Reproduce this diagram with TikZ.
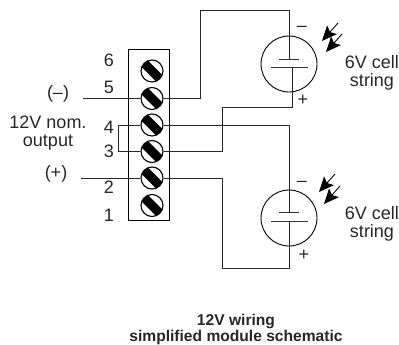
\documentclass[tikz,border=0pt]{standalone}
\usepackage{fontspec}
\setmainfont{Liberation Sans}
\usetikzlibrary{arrows.meta}
\tikzset{
  wire/.style={line width=0.9pt,black!85},
  plate/.style={line width=1pt,black!80},
  screw/.style={circle,draw=black,line width=1.1pt,fill=white,minimum size=22pt,inner sep=0pt,
    path picture={\draw[black,line width=9pt] (path picture bounding box.north west) -- (path picture bounding box.south east);}},
  cell/.style={circle,draw=black,line width=0.9pt,minimum size=56pt,inner sep=0pt},
  photon/.style={line width=0.9pt,-{Stealth[length=15pt,width=13pt,inset=3pt]}},
  lab/.style={font=\fontsize{18}{20}\selectfont,text=black!85,inner sep=0pt},
  titlelab/.style={font=\fontsize{15.6}{17}\selectfont\bfseries,text=black!85,inner sep=0pt}
}
\begin{document}
\begin{tikzpicture}[x=1pt,y=-1pt]
  \useasboundingbox (0,0) rectangle (399,345);
  % terminal strip
  \draw[line width=1pt] (128.5,50) rectangle (169.5,220);
  \node[screw] (s6) at (152,71) {};
  \node[screw] (s5) at (152,98.5) {};
  \node[screw] (s4) at (152,125) {};
  \node[screw] (s3) at (152,151.5) {};
  \node[screw] (s2) at (152,178) {};
  \node[screw] (s1) at (152,205.5) {};
  % cells
  \node[cell] (cellA) at (289,64) {};
  \node[cell] (cellB) at (289,218) {};
  \coordinate (a1) at (279,60);
  \coordinate (a2) at (299,60);
  \coordinate (a3) at (271,68);
  \coordinate (a4) at (308,68);
  \coordinate (b1) at (279,212);
  \coordinate (b2) at (299,212);
  \coordinate (b3) at (271,221);
  \coordinate (b4) at (308,221);
  \draw[plate] (a1) to (a2);
  \draw[plate] (a3) to (a4);
  \draw[plate] (b1) to (b2);
  \draw[plate] (b3) to (b4);
  % free wire ends
  \coordinate (minus) at (83,98.5);
  \coordinate (plus) at (81,178);
  \coordinate (aneg) at (289,60);
  \coordinate (apos) at (292,68);
  \coordinate (bneg) at (289,212);
  \coordinate (bpos) at (289,221);
  \begin{scope}[wire]
    \draw (minus) to (s5);
    \draw (plus) to (s2);
    \draw (s5.east) -- (200,98.5) -- (200,10) -- (289,10) -- (aneg);
    \draw (apos) -- (292,107) -- (222,107) -- (222,151.5) -- (s3.east);
    \draw (s4.east) -- (289,125) -- (bneg);
    \draw (bpos) -- (289,268) -- (222,268) -- (222,178) -- (s2.east);
    \draw (s4.west) -- (118,125) -- (118,151.5) -- (s3.west);
  \end{scope}
  % light
  \coordinate (p1) at (338,23);
  \coordinate (p2) at (322,41);
  \coordinate (p3) at (342,34);
  \coordinate (p4) at (326,52);
  \coordinate (q1) at (335,174);
  \coordinate (q2) at (319,192);
  \coordinate (q3) at (340,186);
  \coordinate (q4) at (324,204);
  \draw[photon] (p1) to (p2);
  \draw[photon] (p3) to (p4);
  \draw[photon] (q1) to (q2);
  \draw[photon] (q3) to (q4);
  % labels
  \node[lab] (n6) at (109,60) {6};
  \node[lab] (n5) at (109,87) {5};
  \node[lab] (n4) at (109,127) {4};
  \node[lab] (n3) at (109,151) {3};
  \node[lab] (n2) at (109,187) {2};
  \node[lab] (n1) at (109,215) {1};
  \node[lab] (neg) at (58,94) {(–)};
  \node[lab] (nom) at (48,122) {12V nom.};
  \node[lab] (out) at (48,143) {output};
  \node[lab] (pos) at (56,174) {(+)};
  \node[lab] (signA) at (302,29) {–};
  \node[lab] (plusA) at (303,100) {+};
  \node[lab] (signB) at (302,184) {–};
  \node[lab] (plusB) at (304,255) {+};
  \node[lab] (stringA) at (372,62) {6V cell};
  \node[lab] (stringB) at (372,82) {string};
  \node[lab] (stringC) at (372,213) {6V cell};
  \node[lab] (stringD) at (372,233) {string};
  \node[titlelab] (title) at (236,321) {12V wiring};
  \node[titlelab] (subtitle) at (236,337) {simplified module schematic};
\end{tikzpicture}
\end{document}
